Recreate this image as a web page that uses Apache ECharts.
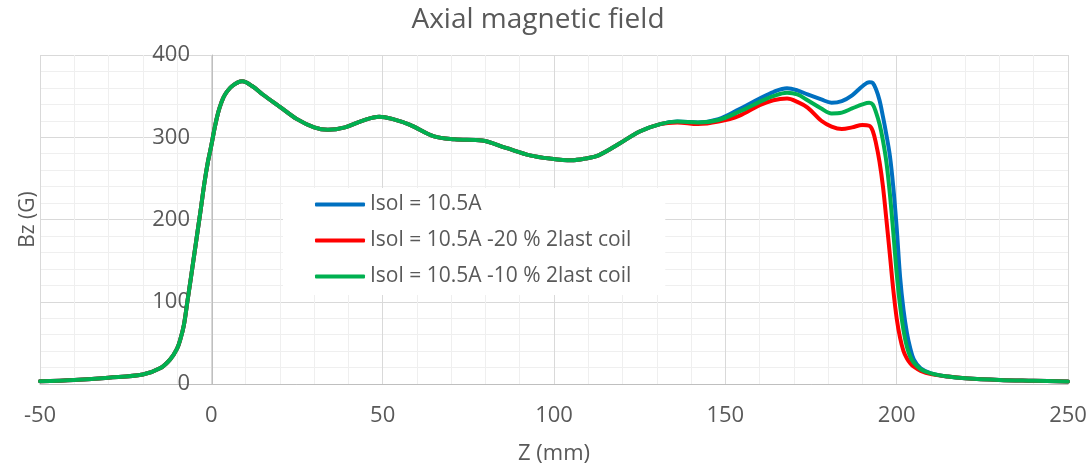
<!DOCTYPE html>
<html>
<head>
<meta charset="utf-8">
<title>Axial magnetic field</title>
<script src="https://cdn.jsdelivr.net/npm/echarts@6/dist/echarts.min.js"></script>
<style>
  html, body { margin: 0; padding: 0; background: #fff; }
  #chart { width: 1091px; height: 469px; }
</style>
</head>
<body>
<div id="chart"></div>
<script>
// positions along the axis (mm)
const zValues = [
  -50, -40, -30, -20, -15, -12, -10, -9, -8, -7, -6, -5, -4, -3, -2, -1, 0, 1, 2, 3, 4, 6, 9,
  12, 15, 20, 25, 30, 34, 39, 44, 49, 53, 58, 65, 71, 79, 86, 93, 99, 105, 109, 113, 119, 125,
  131, 136, 142, 148, 154, 160, 164, 168, 171, 174, 178, 181, 184, 187, 190, 192, 193, 194,
  195, 196, 197, 198, 199, 200, 201, 202, 203, 204, 205, 207, 210, 215, 220, 230, 240, 250
]

// Isol = 10.5A
const bzNominal = [
  3.3, 5, 7.7, 11.5, 19, 30, 43, 55, 72, 100, 128, 157, 186, 215, 245, 270, 290, 312, 330, 343, 352, 362, 368,
  362, 352, 337, 322, 312, 309, 312, 320, 325, 322, 315, 301, 297.5, 296, 287, 278, 274, 272, 274, 278, 292, 307,
  316, 319, 318, 322, 334, 347, 355, 359.5, 357, 352, 346, 342, 344, 351, 362, 367, 366, 358,
  345, 325, 303, 278, 240, 190, 130, 90, 62, 43, 30, 19, 13, 9, 7, 5, 4, 3
]

// Isol = 10.5A -20 % 2last coil
const bzMinus20 = [
  3.3, 5, 7.7, 11.5, 19, 30, 43, 55, 72, 100, 128, 157, 186, 215, 245, 270, 290, 312, 330, 343, 352, 362, 368,
  362, 352, 337, 322, 312, 309, 312, 320, 325, 322, 315, 301, 297.5, 296, 287, 278, 274, 272, 274, 278, 292, 307,
  316, 318, 316, 319, 326, 339, 345, 347, 343, 336, 320, 313, 310, 312, 315, 314, 308, 292,
  270, 240, 200, 158, 115, 80, 56, 40, 31, 25, 21, 16, 12, 9, 7, 5, 4, 3
]

// Isol = 10.5A -10 % 2last coil
const bzMinus10 = [
  3.3, 5, 7.7, 11.5, 19, 30, 43, 55, 72, 100, 128, 157, 186, 215, 245, 270, 290, 312, 330, 343, 352, 362, 368,
  362, 352, 337, 322, 312, 309, 312, 320, 325, 322, 315, 301, 297.5, 296, 287, 278, 274, 272, 274, 278, 292, 307,
  316, 319, 318, 321, 331, 343, 350, 354, 352, 345, 335, 329, 330, 335, 340, 342, 340, 330,
  316, 296, 270, 232, 185, 135, 95, 65, 45, 33, 26, 18, 13, 9, 7, 5, 4, 3
]

const seriesNames = ['Isol = 10.5A', 'Isol = 10.5A -20 % 2last coil', 'Isol = 10.5A -10 % 2last coil']
const seriesColors = ['#0070C0', '#FF0000', '#00B050']
const seriesValues = [bzNominal, bzMinus20, bzMinus10]

const textColor = '#595959'
const fontFamily = '"Open Sans", "Liberation Sans", sans-serif'

const chart = echarts.init(document.getElementById('chart'), null, { renderer: 'canvas' })

// y 轴画在 z = 0 处（像素偏移 = 0 与 -50 之间的距离）
const yAxisShift = 172

chart.setOption({
  animation: false,
  textStyle: { fontFamily, color: textColor },
  title: {
    text: 'Axial magnetic field',
    left: 533,
    textAlign: 'center',
    top: 1,
    textStyle: { fontFamily, fontSize: 28, fontWeight: 'normal', color: textColor }
  },
  legend: {
    orient: 'vertical',
    left: 283,
    top: 188,
    padding: [6, 34, 8, 32],
    backgroundColor: '#fff',
    itemWidth: 50,
    itemHeight: 4,
    itemGap: 15,
    icon: 'roundRect',
    textStyle: { fontFamily, fontSize: 21, color: textColor },
    data: seriesNames
  },
  grid: { left: 40, right: 23, top: 55, bottom: 85, containLabel: false, outerBoundsMode: 'none' },
  xAxis: {
    type: 'value',
    min: -50,
    max: 250,
    interval: 50,
    name: 'Z (mm)',
    nameLocation: 'middle',
    nameGap: 59,
    nameTextStyle: { fontFamily, fontSize: 22, color: textColor },
    axisLine: { onZero: true, lineStyle: { color: '#bfbfbf', width: 1 } },
    axisTick: { show: false },
    axisLabel: { margin: 21, fontSize: 22, color: textColor, fontFamily },
    splitLine: { show: true, lineStyle: { color: '#d9d9d9', width: 1 } },
    minorTick: { show: false, splitNumber: 5 },
    minorSplitLine: { show: true, lineStyle: { color: '#efefef', width: 1 } }
  },
  yAxis: {
    type: 'value',
    min: 0,
    max: 400,
    interval: 100,
    offset: -yAxisShift,
    name: 'Bz (G)',
    nameLocation: 'middle',
    nameGap: 173,
    nameTextStyle: { fontFamily, fontSize: 21, color: textColor },
    axisLine: { show: true, onZero: false, lineStyle: { color: '#bfbfbf', width: 1 } },
    axisTick: { show: false },
    axisLabel: { margin: 22, fontSize: 22, color: textColor, fontFamily },
    splitLine: { show: true, lineStyle: { color: '#d9d9d9', width: 1 } },
    minorTick: { show: false, splitNumber: 5 },
    minorSplitLine: { show: true, lineStyle: { color: '#efefef', width: 1 } }
  },
  series: seriesValues.map((values, i) => ({
    name: seriesNames[i],
    type: 'line',
    data: zValues.map((z, k) => [z, values[k]]),
    smooth: 0.35,
    showSymbol: false,
    symbol: 'none',
    color: seriesColors[i],
    lineStyle: { color: seriesColors[i], width: 4, cap: 'round', join: 'round' },
    z: 2 + i
  }))
})
</script>
</body>
</html>
